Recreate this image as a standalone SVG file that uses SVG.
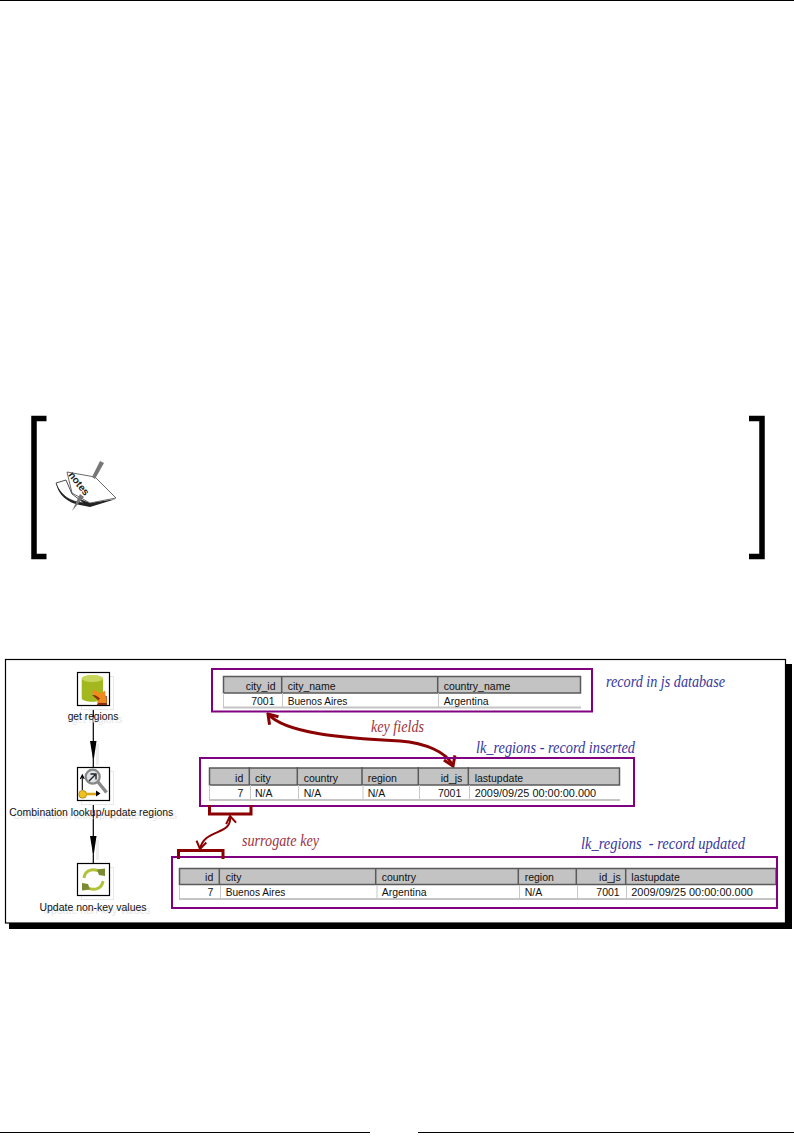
<svg xmlns="http://www.w3.org/2000/svg" width="794" height="1142" viewBox="0 0 794 1142">
<style>
text{font-family:"Liberation Sans",Arial,sans-serif;font-size:10.5px;fill:#111}
.r{text-anchor:end}
.c{text-anchor:middle}
.ghost{fill:#e6e6e6}
.ghostbox{fill:#fff;stroke:#e9e9e9;stroke-width:1}
.ibox{fill:#fff;stroke:#000;stroke-width:1.2}
.hd{fill:#c3c3c3;stroke:#5a5a5a;stroke-width:1.5}
.div{stroke:#5a5a5a;stroke-width:1.5}
.cell{stroke:#c8c8c8;stroke-width:1}
.foot{stroke:#c4c4c4;stroke-width:2}
.pbox{fill:none;stroke:#800080;stroke-width:2}
.blue{font-family:"Liberation Serif",serif;font-style:italic;font-size:17px;fill:#36369e}
.red{font-family:"Liberation Serif",serif;font-style:italic;font-size:16.5px;fill:#a0333f}
.conn{fill:none;stroke:#000;stroke-width:1.2}
.rl{fill:none;stroke:#8b0000;stroke-width:3}
.rb{fill:none;stroke:#8b0000;stroke-width:3}
</style>
<defs>
<marker id="rh" viewBox="0 0 12 14" refX="10" refY="7" markerWidth="12" markerHeight="14" markerUnits="userSpaceOnUse" orient="auto-start-reverse"><path d="M1,1 L10,7 L1,13" fill="none" stroke="#8b0000" stroke-width="3"/></marker>
<marker id="rs" viewBox="0 0 10 12" refX="8.5" refY="6" markerWidth="10" markerHeight="12" markerUnits="userSpaceOnUse" orient="auto-start-reverse"><path d="M1,1 L8.5,6 L1,11" fill="none" stroke="#8b0000" stroke-width="2"/></marker>
</defs>
<rect width="794" height="1142" fill="#fff"/>
<rect x="0" y="0" width="794" height="1" fill="#000"/>
<path d="M46.5,418.5 H34 V556.5 H46.5" fill="none" stroke="#000" stroke-width="5.5"/>
<path d="M749,418.5 H762 V556.5 H749" fill="none" stroke="#000" stroke-width="5.5"/>
<g id="note-icon">
<path d="M56,483 C58,495 68,503 80,505 L90,507 L116,499 L90,503 L72,496 Z" fill="#222"/>
<path d="M67,472 L95,477 L116,498 L90,503 L72,493 Z" fill="#fff" stroke="#444" stroke-width="0.8"/>
<path d="M56,483 L66,480 L72,494 L84,503 C70,502 60,495 56,483 Z" fill="#fff" stroke="#222" stroke-width="0.8"/>
<path d="M104,463 L100,461 L92,477 L95,479 Z" fill="#777"/>
<path d="M72,511 L80,494 L84,497 Z" fill="#777"/>
<text transform="translate(68,475) rotate(52)" style="font-size:10px;font-weight:bold;fill:#222" textLength="27" lengthAdjust="spacingAndGlyphs">notes</text>
</g>
<rect x="9" y="664" width="783" height="265" fill="#000"/>
<rect x="5.5" y="659.5" width="780" height="263.5" fill="#fff" stroke="#000" stroke-width="1.2"/>
<g id="connectors">
<path d="M97.5,744 V765 M97.5,840 V860" stroke="#eee" stroke-width="3" fill="none"/>
<path class="conn" d="M93.3,705 V767"/>
<path d="M90,741 H96.5 L94,758 H92.8 Z" fill="#000"/>
<path class="conn" d="M93.3,800 V863"/>
<path d="M90,836 H96.5 L94,853 H92.8 Z" fill="#000"/>
<path class="rl" marker-start="url(#rh)" marker-end="url(#rh)" d="M268,714 C285,733 340,738 400,741 C425,743 447,752 453,766"/>
<path class="rl" style="stroke-width:2" marker-start="url(#rs)" marker-end="url(#rs)" d="M230,816 C233,836 204,828 200,849"/>
</g>
<g id="get-regions">
<rect class="ghostbox" x="81.5" y="676.5" width="32" height="33"/>
<rect class="ibox" x="77.5" y="672.5" width="32" height="33"/>
<path d="M81.7,679 C81.7,674 103,674 103,679 V698 C103,703 81.7,703 81.7,698 Z" fill="#a2b81e"/>
<ellipse cx="92.4" cy="678.5" rx="10.7" ry="3.5" fill="#c9d65c"/>
<path d="M92,695 L99,701 L96.7,705 L107,705 L106.7,696 Z" fill="#8a2f10"/>
<path d="M93.3,689.3 L100,693.3 L105,690.7 L106.7,703 L96.7,702.7 L100,698.3 L92.3,693.3 Z" fill="#f08a1c"/>
<text class="c ghost" x="97" y="723" textLength="50.7" lengthAdjust="spacingAndGlyphs">get regions</text>
<text class="c" x="93" y="720" textLength="50.7" lengthAdjust="spacingAndGlyphs">get regions</text>
</g>
<g id="combination-lookup">
<rect class="ghostbox" x="81.5" y="771.5" width="32" height="33"/>
<rect class="ibox" x="77.5" y="767.5" width="32" height="33"/>
<path d="M98,782 L106.5,792.5" stroke="#888" stroke-width="3.4" fill="none"/>
<circle cx="92.7" cy="776.7" r="7" fill="#dfe3e8" stroke="#888" stroke-width="2.2"/>
<path d="M89,781 L95,775 M90.5,774 H96 V779.5" stroke="#222" stroke-width="1.4" fill="none"/>
<path d="M82.3,790 V776 M80.3,779 L82.3,775 L84.3,779" stroke="#000" stroke-width="1.1" fill="none"/>
<circle cx="82.7" cy="794.3" r="3.9" fill="#f0c020" stroke="#a47c10" stroke-width="0.8"/>
<path d="M86,794 H96" stroke="#d8a818" stroke-width="2.6"/>
<path d="M96,790.5 L100.5,793.5 L96,796.5 Z" fill="#000"/>
<text class="c ghost" x="95" y="819" textLength="164" lengthAdjust="spacingAndGlyphs">Combination lookup/update regions</text>
<text class="c" x="91.3" y="815.5" textLength="164" lengthAdjust="spacingAndGlyphs">Combination lookup/update regions</text>
</g>
<g id="update-non-key">
<rect class="ghostbox" x="81.5" y="867.5" width="32" height="32"/>
<rect class="ibox" x="77.5" y="863.5" width="32" height="32"/>
<path d="M84,878 C85,870 93,868 100,871.5" fill="none" stroke="#b2c23a" stroke-width="3"/>
<path d="M97,869.5 L105,868.5 L105,876 L99,875 Z" fill="#7c8a34"/>
<path d="M103,881 C102,889 94,891 87,887.5" fill="none" stroke="#b2c23a" stroke-width="3"/>
<path d="M90,889.5 L82,890.5 L82,883 L88,884 Z" fill="#7c8a34"/>
<text class="c ghost" x="97" y="914" textLength="107" lengthAdjust="spacingAndGlyphs">Update non-key values</text>
<text class="c" x="93" y="910.5" textLength="107" lengthAdjust="spacingAndGlyphs">Update non-key values</text>
</g>
<g id="table-js">
<rect class="hd" x="223.5" y="676.5" width="357" height="16.5"/>
<path class="div" d="M281.7,676 V693 M437.7,676 V693"/>
<path class="cell" d="M223.5,693 V707 M282.5,693 V707 M438.5,693 V707"/>
<path class="foot" d="M223,707.5 H581"/>
<text class="r" x="275.5" y="690">city_id</text><text x="287.7" y="690">city_name</text><text x="443.7" y="690">country_name</text>
<text class="r" x="274.5" y="705">7001</text><text x="287.7" y="705" textLength="59.7" lengthAdjust="spacingAndGlyphs">Buenos Aires</text><text x="443.7" y="705">Argentina</text>
</g>
<g id="table-inserted">
<rect class="hd" x="209.5" y="768" width="410" height="17"/>
<path class="div" d="M249.3,767 V785 M297.3,767 V785 M362,767 V785 M418.3,767 V785 M468.3,767 V785"/>
<path class="cell" d="M209.5,785 V799 M250.5,785 V799 M298.5,785 V799 M363,785 V799 M419.5,785 V799 M469.5,785 V799"/>
<path class="foot" d="M209,800 H620"/>
<text class="r" x="243.3" y="782">id</text><text x="255" y="782">city</text><text x="303.7" y="782">country</text><text x="367.7" y="782">region</text><text class="r" x="462.3" y="782">id_js</text><text x="474.7" y="782">lastupdate</text>
<text class="r" x="243.3" y="797">7</text><text x="255" y="797">N/A</text><text x="303.7" y="797">N/A</text><text x="367.7" y="797">N/A</text><text class="r" x="461.3" y="797">7001</text><text x="474.7" y="797" textLength="121.5" lengthAdjust="spacingAndGlyphs">2009/09/25 00:00:00.000</text>
</g>
<g id="table-updated">
<rect class="hd" x="179.5" y="868.5" width="596.5" height="16"/>
<path class="div" d="M219.3,868 V885 M375.7,868 V885 M518.3,868 V885 M576.3,868 V885 M625.7,868 V885"/>
<path class="cell" d="M179.5,885 V898 M220.5,885 V898 M377,885 V898 M519.5,885 V898 M577.5,885 V898 M626.5,885 V898"/>
<path class="foot" d="M179,899 H776"/>
<text class="r" x="213.3" y="881">id</text><text x="225.7" y="881">city</text><text x="381.7" y="881">country</text><text x="524.7" y="881">region</text><text class="r" x="620.7" y="881">id_js</text><text x="631.3" y="881">lastupdate</text>
<text class="r" x="213.3" y="896">7</text><text x="225.7" y="896" textLength="59.7" lengthAdjust="spacingAndGlyphs">Buenos Aires</text><text x="381.7" y="896">Argentina</text><text x="524.7" y="896">N/A</text><text class="r" x="619.7" y="896">7001</text><text x="631.3" y="896" textLength="121.5" lengthAdjust="spacingAndGlyphs">2009/09/25 00:00:00.000</text>
</g>
<rect class="pbox" x="212" y="669" width="380" height="42.5"/>
<rect class="pbox" x="200" y="758" width="434" height="48"/>
<rect class="pbox" x="172" y="857" width="605" height="51"/>
<path class="rb" d="M209.5,805 V814 H251 V805"/>
<path class="rb" d="M178.5,859 V850.5 H223 V859"/>
<text class="blue" x="606" y="687" textLength="119" lengthAdjust="spacingAndGlyphs">record in js database</text>
<text class="blue" x="476" y="753" textLength="159" lengthAdjust="spacingAndGlyphs">lk_regions - record inserted</text>
<text class="blue" x="581" y="849" textLength="164" lengthAdjust="spacingAndGlyphs" xml:space="preserve">lk_regions  - record updated</text>
<text class="red" x="371" y="732" textLength="53" lengthAdjust="spacingAndGlyphs">key fields</text>
<text class="red" x="242" y="846" textLength="77" lengthAdjust="spacingAndGlyphs">surrogate key</text>
<path d="M0,1132.5 H370 M418,1132.5 H794" stroke="#000" stroke-width="1.2" fill="none"/>
</svg>
